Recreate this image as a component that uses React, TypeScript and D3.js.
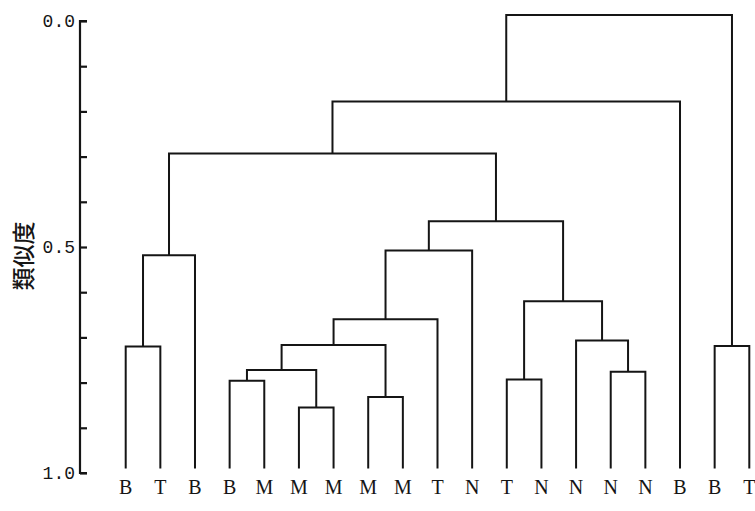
import { useEffect, useRef } from "react";
import * as d3 from "d3";

// leaf labels, left to right
const leafLabels = ["B", "T", "B", "B", "M", "M", "M", "M", "M", "T", "N", "T", "N", "N", "N", "N", "B", "B", "T"];

// merges like a linkage matrix: [left, right, similarity]
// ids 0..18 are leaves, merge k gets id 19 + k
const mergeLeft = [0, 19, 3, 5, 21, 7, 23, 25, 26, 11, 14, 13, 28, 27, 20, 33, 17, 34];
const mergeRight = [1, 2, 4, 6, 22, 8, 24, 9, 10, 12, 15, 29, 30, 31, 32, 16, 18, 35];
const mergeHeight = [0.72, 0.518, 0.796, 0.855, 0.772, 0.832, 0.717, 0.66, 0.508, 0.793, 0.776, 0.707, 0.62, 0.443, 0.293, 0.178, 0.719, -0.013];

// axis
const yTicks = d3.range(0, 1.0001, 0.1);
const yTickLabels = [0, 0.5, 1.0];
const yTitle = "類似度";

const width = 755;
const height = 511;
const leafBottom = 0.99;

const drawChart = (el) => {
    d3.select(el).selectAll("*").remove();

    const svg = d3.select(el)
        .append("svg")
        .attr("width", width)
        .attr("height", height)
        .style("position", "absolute")
        .style("left", 0)
        .style("top", 0)
        .style("background", "#fff");

    const x = d3.scalePoint()
        .domain(d3.range(leafLabels.length))
        .range([125.7, 749.3]);

    const y = d3.scaleLinear()
        .domain([0, 1])
        .range([21, 473]);

    // positions of every node (leaves then merges)
    const nodeX = leafLabels.map((_, i) => x(i));
    const nodeY = leafLabels.map(() => y(leafBottom));
    mergeHeight.forEach((h, k) => {
        nodeX.push((nodeX[mergeLeft[k]] + nodeX[mergeRight[k]]) / 2);
        nodeY.push(y(h));
    });

    // elbow path: left child up, across, down to right child
    const links = mergeHeight.map((h, k) => {
        const a = mergeLeft[k];
        const b = mergeRight[k];
        const p = d3.path();
        p.moveTo(nodeX[a], nodeY[a]);
        p.lineTo(nodeX[a], y(h));
        p.lineTo(nodeX[b], y(h));
        p.lineTo(nodeX[b], nodeY[b]);
        return p.toString();
    });

    svg.append("g")
        .selectAll("path")
        .data(links)
        .join("path")
            .attr("d", d => d)
            .attr("fill", "none")
            .attr("stroke", "#151515")
            .attr("stroke-width", 2)
            .attr("stroke-linejoin", "miter");

    // leaf labels
    svg.append("g")
        .attr("font-family", "'Liberation Serif', serif")
        .attr("font-size", 20)
        .attr("text-anchor", "middle")
        .attr("fill", "#151515")
        .selectAll("text")
        .data(leafLabels)
        .join("text")
            .attr("x", (d, i) => x(i))
            .attr("y", 494)
            .text(d => d);

    // y axis, ticks point inward
    const axis = d3.axisRight(y)
        .tickValues(yTicks)
        .tickSize(7)
        .tickFormat("");
    const ax = svg.append("g")
        .attr("transform", "translate(80,0)")
        .call(axis);
    ax.select(".domain")
        .attr("d", `M7,${y(0)}H0V${y(1)}H7`)
        .attr("stroke", "#151515")
        .attr("stroke-width", 2.2);
    ax.selectAll(".tick line")
        .attr("stroke", "#151515")
        .attr("stroke-width", 2.2);

    svg.append("g")
        .attr("font-family", "'Liberation Mono', monospace")
        .attr("font-size", 18)
        .attr("text-anchor", "end")
        .attr("fill", "#151515")
        .selectAll("text")
        .data(yTickLabels)
        .join("text")
            .attr("x", 75)
            .attr("y", d => y(d))
            .attr("dy", "0.35em")
            .text(d => d3.format(".1f")(d));

    svg.append("text")
        .attr("transform", `translate(24,${y(0.52)}) rotate(-90)`)
        .attr("text-anchor", "middle")
        .attr("dy", "0.35em")
        .attr("font-family", "'Noto Sans CJK JP', sans-serif")
        .attr("font-size", 23)
        .attr("font-weight", 500)
        .attr("fill", "#151515")
        .text(yTitle);
};

export default function App() {
    const ref = useRef(null);

    useEffect(() => {
        drawChart(ref.current);
    }, []);

    return <div ref={ref} />;
}
